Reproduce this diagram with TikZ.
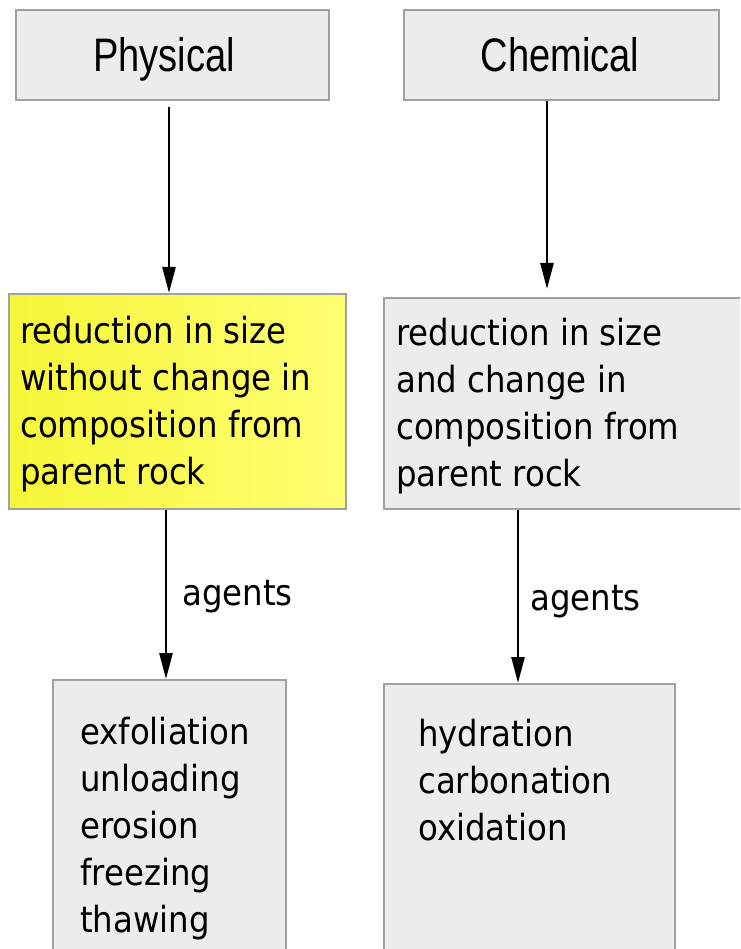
\documentclass[tikz,border=0pt]{standalone}
\usepackage{fontspec}
\setmainfont{DejaVu Sans}[FakeStretch=0.9]
\newfontfamily\titlefont{Liberation Sans}[FakeStretch=0.81]
\usetikzlibrary{arrows.meta}
\definecolor{boxgray}{RGB}{236,236,236}
\definecolor{boxedge}{RGB}{160,160,160}
\definecolor{yelA}{RGB}{246,246,56}
\definecolor{yelB}{RGB}{255,255,115}
\begin{document}
\begin{tikzpicture}[x=1pt,y=-1pt,
  box/.style={draw=boxedge, line width=2pt, fill=boxgray, rectangle, inner sep=0pt, anchor=north west},
  hibox/.style={box, left color=yelA, right color=yelB, draw=boxedge},
  body/.style={font=\fontsize{36}{47}\selectfont, align=left, inner sep=0pt, anchor=north west},
  title/.style={font=\titlefont\fontsize{47}{56}\selectfont, inner sep=0pt, anchor=base},
  lbl/.style={font=\fontsize{36}{47}\selectfont, inner sep=0pt, anchor=base west},
  conn/.style={line width=2.5pt, -{Triangle[length=26pt,width=13pt]}}]
\useasboundingbox (0,0) rectangle (740,949);
\clip (0,0) rectangle (740,949);
\fill[white] (0,0) rectangle (740,949);
% boxes
\node[box, minimum width=313pt, minimum height=90pt] (phys) at (15,9) {};
\node[box, minimum width=315pt, minimum height=90pt] (chem) at (403,9) {};
\node[hibox, minimum width=337pt, minimum height=215pt] (physD) at (8,293) {};
\node[box, minimum width=380pt, minimum height=211pt] (chemD) at (383,297) {};
\node[box, minimum width=233pt, minimum height=300pt] (physA) at (52,679) {};
\node[box, minimum width=291pt, minimum height=300pt] (chemA) at (383,683) {};
% texts
\node[title] (physT) at (164,72) {Physical};
\node[title] (chemT) at (560,72) {Chemical};
\node[body] (physDT) at (20,315.6) {reduction in size\\without change in\\composition from\\parent rock};
\node[body] (chemDT) at (396,317.6) {reduction in size\\and change in\\composition from\\parent rock};
\node[body] (physAT) at (80,716.6) {exfoliation\\unloading\\erosion\\freezing\\thawing};
\node[body] (chemAT) at (418,718.6) {hydration\\carbonation\\oxidation};
\node[lbl] (ag1) at (182,605) {agents};
\node[lbl] (ag2) at (530,610) {agents};
% connectors
\draw[conn, shorten <=6pt] ([xshift=-3.5pt]phys.south) -- ([xshift=-8.5pt]physD.north);
\draw[conn, shorten >=8pt] ([xshift=-14.5pt]chem.south) -- ([xshift=-27pt]chemD.north);
\draw[conn] ([xshift=-11.5pt]physD.south) -- ([xshift=-3.5pt]physA.north);
\draw[conn] ([xshift=-56pt]chemD.south) -- ([xshift=-11.5pt]chemA.north);
\end{tikzpicture}
\end{document}
